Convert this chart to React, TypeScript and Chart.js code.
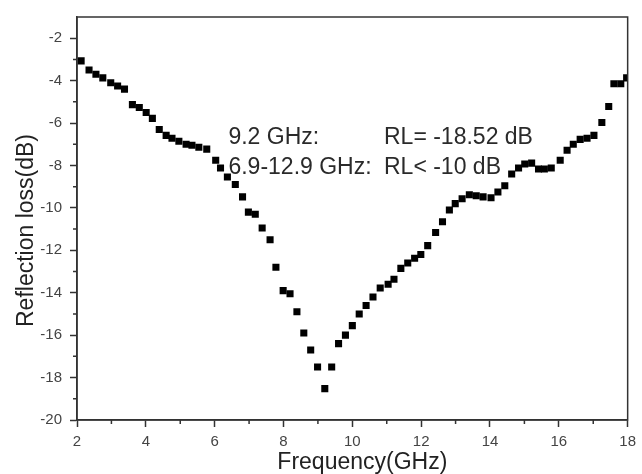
import React, { useEffect, useRef } from "react";
import { Chart, registerables } from "chart.js";

Chart.register(...registerables);

// Frequency (GHz) of each measured point
const frequencyGHz = [
  2.12, 2.35, 2.55, 2.75, 2.98, 3.18, 3.38, 3.61, 3.81, 4.01,
  4.19, 4.39, 4.59, 4.76, 4.96, 5.17, 5.34, 5.54, 5.77, 6.03,
  6.17, 6.37, 6.6, 6.81, 6.98, 7.18, 7.38, 7.61, 7.78, 7.99,
  8.19, 8.39, 8.59, 8.79, 8.99, 9.2, 9.4, 9.6, 9.8, 10.0,
  10.2, 10.4, 10.6, 10.81, 11.04, 11.21, 11.41, 11.61, 11.81, 11.99,
  12.19, 12.42, 12.62, 12.82, 12.99, 13.19, 13.4, 13.6, 13.8, 14.03,
  14.23, 14.43, 14.63, 14.83, 15.01, 15.21, 15.41, 15.58, 15.78, 16.04,
  16.24, 16.42, 16.62, 16.82, 17.02, 17.25, 17.45, 17.6, 17.8, 17.97,
];

// Reflection loss (dB) for each frequency
const reflectionLossDb = [
  -3.07, -3.5, -3.7, -3.87, -4.1, -4.25, -4.4, -5.13, -5.27, -5.5,
  -5.78, -6.3, -6.58, -6.72, -6.86, -7.0, -7.05, -7.14, -7.23, -7.75,
  -8.12, -8.54, -8.9, -9.48, -10.2, -10.3, -10.95, -11.5, -12.8, -13.9,
  -14.05, -14.9, -15.9, -16.7, -17.5, -18.52, -17.5, -16.4, -16.0, -15.55,
  -15.0, -14.6, -14.2, -13.78, -13.6, -13.36, -12.85, -12.6, -12.37, -12.2,
  -11.78, -11.16, -10.65, -10.1, -9.8, -9.57, -9.38, -9.43, -9.48, -9.52,
  -9.25, -8.96, -8.4, -8.12, -7.93, -7.89, -8.17, -8.17, -8.12, -7.75,
  -7.28, -7.0, -6.77, -6.72, -6.58, -5.97, -5.22, -4.15, -4.15, -3.87,
];

const xTickValues = [2, 4, 6, 8, 10, 12, 14, 16, 18];
const xMinorTickValues = [3, 5, 7, 9, 11, 13, 15, 17];
const yTickValues = [-20, -18, -16, -14, -12, -10, -8, -6, -4, -2];
const yMinorTickValues = [-19, -17, -15, -13, -11, -9, -7, -5, -3];

const xTitle = "Frequency(GHz)";
const yTitle = "Reflection loss(dB)";
const annotationLeft = ["9.2 GHz:", "6.9-12.9 GHz:"];
const annotationRight = ["RL= -18.52 dB", "RL< -10 dB"];

const FONT = "'Liberation Sans', Arial, Helvetica, sans-serif";
const AXIS_COLOR = "#333";

const framePlugin = {
  id: "frameAndMinor",
  beforeDatasetsDraw(chart: any) {
    const { ctx, scales } = chart;
    const x = scales.x;
    const y = scales.y;
    ctx.save();
    ctx.fillStyle = "#2a2a2a";
    ctx.font = `23px ${FONT}`;
    ctx.textBaseline = "alphabetic";
    ctx.textAlign = "left";
    const lineY = [-7.0, -8.4];
    annotationLeft.forEach((t, i) => {
      ctx.fillText(t, x.getPixelForValue(6.4), y.getPixelForValue(lineY[i]));
    });
    annotationRight.forEach((t, i) => {
      ctx.fillText(t, x.getPixelForValue(10.92), y.getPixelForValue(lineY[i]));
    });
    ctx.restore();
  },
  afterDraw(chart: any) {
    const { ctx, chartArea, scales } = chart;
    const { left, right, top, bottom } = chartArea;
    ctx.save();
    ctx.strokeStyle = AXIS_COLOR;
    ctx.lineWidth = 1.5;
    ctx.strokeRect(left, top, right - left, bottom - top);
    ctx.beginPath();
    xMinorTickValues.forEach((v) => {
      const px = scales.x.getPixelForValue(v);
      ctx.moveTo(px, bottom);
      ctx.lineTo(px, bottom + 4);
    });
    yMinorTickValues.forEach((v) => {
      const py = scales.y.getPixelForValue(v);
      ctx.moveTo(left - 4, py);
      ctx.lineTo(left, py);
    });
    ctx.stroke();

    // axis titles
    ctx.fillStyle = "#222";
    ctx.font = `23px ${FONT}`;
    ctx.textAlign = "center";
    ctx.textBaseline = "alphabetic";
    ctx.fillText(xTitle, (left + right) / 2 + 10, bottom + 49);
    ctx.save();
    ctx.translate(left - 44, (top + bottom) / 2 + 12);
    ctx.rotate(-Math.PI / 2);
    ctx.fillText(yTitle, 0, 0);
    ctx.restore();
    ctx.restore();
  },
};

export default function App() {
  const canvasRef = useRef<HTMLCanvasElement | null>(null);

  useEffect(() => {
    if (!canvasRef.current) return;
    const chart = new Chart(canvasRef.current, {
      type: "scatter",
      data: {
        datasets: [
          {
            data: frequencyGHz.map((f, i) => ({ x: f, y: reflectionLossDb[i] })),
            pointStyle: "rect",
            pointRadius: 5,
            pointHoverRadius: 5,
            backgroundColor: "#000",
            borderColor: "#000",
            borderWidth: 0,
            showLine: false,
          },
        ],
      },
      options: {
        animation: false,
        responsive: false,
        events: [],
        layout: { padding: { top: 14, right: 9, left: 0, bottom: 0 } },
        plugins: {
          legend: { display: false },
          tooltip: { enabled: false },
        },
        scales: {
          x: {
            type: "linear",
            min: 2,
            max: 18,
            afterBuildTicks: (scale: any) => {
              scale.ticks = xTickValues.map((v) => ({ value: v }));
            },
            afterFit: (scale: any) => {
              scale.height = 54;
            },
            grid: {
              drawOnChartArea: false,
              drawTicks: true,
              tickLength: 7,
              tickColor: AXIS_COLOR,
              tickWidth: 1.5,
            },
            border: { color: AXIS_COLOR, width: 1.5 },
            ticks: {
              padding: 6,
              color: "#444",
              font: { family: FONT, size: 15 },
              maxRotation: 0,
              autoSkip: false,
            },
            title: { display: false },
          },
          y: {
            type: "linear",
            min: -20,
            max: -1,
            afterBuildTicks: (scale: any) => {
              scale.ticks = yTickValues.map((v) => ({ value: v }));
            },
            afterFit: (scale: any) => {
              scale.width = 77;
            },
            grid: {
              drawOnChartArea: false,
              drawTicks: true,
              tickLength: 7,
              tickColor: AXIS_COLOR,
              tickWidth: 1.5,
            },
            border: { color: AXIS_COLOR, width: 1.5 },
            ticks: {
              padding: 8,
              color: "#444",
              font: { family: FONT, size: 15 },
              autoSkip: false,
            },
            title: { display: false },
          },
        },
      },
      plugins: [framePlugin],
    });
    return () => chart.destroy();
  }, []);

  return (
    <div style={{ position: "absolute", left: 0, top: 0, width: 642, height: 474, background: "#fff" }}>
      <canvas ref={canvasRef} width={642} height={474} />
    </div>
  );
}
